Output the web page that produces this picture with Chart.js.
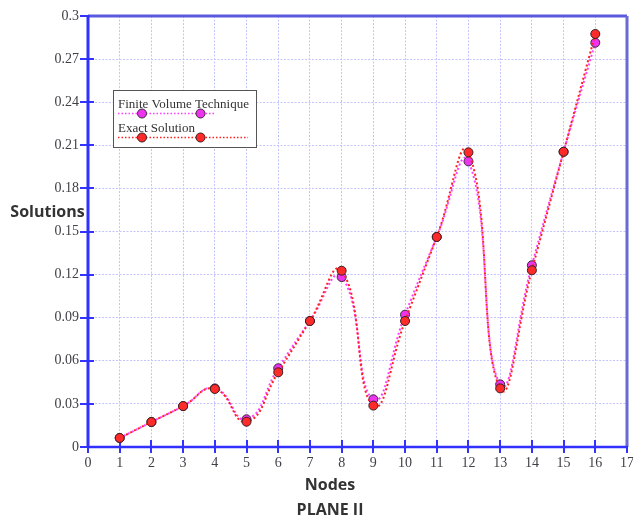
<!DOCTYPE html>
<html><head><meta charset="utf-8">
<script src="https://cdn.jsdelivr.net/npm/chart.js@4"></script>
<style>html,body{margin:0;padding:0;background:#fff}#wrap{width:633px;height:521px}</style>
</head><body><div id="wrap"><canvas id="c" width="633" height="521"></canvas></div>
<script>
const nodes = [1,2,3,4,5,6,7,8,9,10,11,12,13,14,15,16];
const fvtValues   = [0.0063,0.0174,0.0285,0.0408,0.0193,0.0548,0.0877,0.1183,0.0332,0.0921,0.1462,0.1988,0.0436,0.1265,0.2055,0.2814];
const exactValues = [0.0063,0.0174,0.0285,0.0404,0.0176,0.0520,0.0877,0.1227,0.0288,0.0877,0.1462,0.2051,0.0408,0.1230,0.2055,0.2875];
const xTickValues = [0,1,2,3,4,5,6,7,8,9,10,11,12,13,14,15,16,17];
const yTickValues = [0,0.03,0.06,0.09,0.12,0.15,0.18,0.21,0.24,0.27,0.3];
const seriesNames = ['Finite Volume Technique','Exact Solution'];
const yTitle = 'Solutions';
const xTitle = 'Nodes';
const subTitle = 'PLANE II';

const toPts = vals => nodes.map((n,i)=>({x:n,y:vals[i]}));

const framePlugin = {
  id:'frame',
  beforeDatasetsDraw(chart){
    const {ctx, chartArea:a, scales:{x,y}} = chart;
    ctx.save();
    ctx.strokeStyle='#3333ff'; ctx.lineWidth=2;
    yTickValues.forEach(v=>{const py=Math.round(y.getPixelForValue(v));
      ctx.beginPath();ctx.moveTo(a.left-8,py);ctx.lineTo(a.left+6,py);ctx.stroke();});
    xTickValues.forEach(v=>{const px=Math.round(x.getPixelForValue(v));
      ctx.beginPath();ctx.moveTo(px,a.bottom-7);ctx.lineTo(px,a.bottom+6);ctx.stroke();});
    ctx.strokeStyle='#5a5ae0'; ctx.lineWidth=3;
    ctx.beginPath();ctx.moveTo(a.left,a.top);ctx.lineTo(a.right,a.top);ctx.stroke();
    ctx.strokeStyle='#6a6ad6';
    ctx.beginPath();ctx.moveTo(a.right,a.top);ctx.lineTo(a.right,a.bottom);ctx.stroke();
    ctx.strokeStyle='#3030ff'; ctx.lineWidth=3;
    ctx.beginPath();ctx.moveTo(a.left,a.top-1);ctx.lineTo(a.left,a.bottom);ctx.stroke();
    ctx.lineWidth=2.5;
    ctx.beginPath();ctx.moveTo(a.left,a.bottom);ctx.lineTo(a.right+1,a.bottom);ctx.stroke();
    ctx.restore();
  },
  afterDraw(chart){
    const {ctx} = chart;
    ctx.save();
    ctx.fillStyle='#333';
    ctx.font='bold 16px "Open Sans"';
    ctx.textAlign='center'; ctx.textBaseline='middle';
    ctx.fillText(yTitle,47.5,212);
    ctx.fillText(xTitle,330,485);
    ctx.fillText(subTitle,330,510);
    const bx=113.5, by=90.5, bw=143, bh=57;
    ctx.fillStyle='#fff'; ctx.fillRect(bx,by,bw,bh);
    ctx.strokeStyle='#555'; ctx.lineWidth=1; ctx.strokeRect(bx,by,bw,bh);
    const ds = chart.data.datasets;
    const rows=[{ty:108,ly:113.5,lx2:215},{ty:132,ly:137.5,lx2:248}];
    ds.forEach((d,i)=>{
      const r=rows[i];
      ctx.fillStyle='#333'; ctx.font='13px "Liberation Serif"';
      ctx.textAlign='left'; ctx.textBaseline='alphabetic';
      ctx.fillText(d.label,118,r.ty);
      ctx.strokeStyle=d.borderColor; ctx.lineWidth=1.5; ctx.setLineDash([1.5,2]);
      ctx.beginPath();ctx.moveTo(118,r.ly);ctx.lineTo(r.lx2,r.ly);ctx.stroke();
      ctx.setLineDash([]);
      [142,200.5].forEach(mx=>{
        ctx.beginPath();ctx.arc(mx,r.ly,4.5,0,Math.PI*2);
        ctx.fillStyle=d.pointBackgroundColor; ctx.fill();
        ctx.strokeStyle=d.pointBorderColor; ctx.lineWidth=1; ctx.stroke();
      });
    });
    ctx.restore();
  }
};

const zeroPad = s => { s.paddingLeft=0; s.paddingRight=0; s.paddingTop=0; s.paddingBottom=0; };

new Chart(document.getElementById('c'),{
  type:'line',
  data:{datasets:[
    {label:seriesNames[0],data:toPts(fvtValues),borderColor:'#ff3cff',backgroundColor:'#ff3cff',
     pointBackgroundColor:'#ee33ee',pointBorderColor:'#3a2a3a',pointBorderWidth:1,pointRadius:4.5,
     borderWidth:2,borderDash:[2,2.5],tension:0.5,fill:false,order:1},
    {label:seriesNames[1],data:toPts(exactValues),borderColor:'#ff2020',backgroundColor:'#ff2020',
     pointBackgroundColor:'#ff2a2a',pointBorderColor:'#3a2020',pointBorderWidth:1,pointRadius:4.5,
     borderWidth:2,borderDash:[2,2.5],borderDashOffset:2,tension:0.5,fill:false,order:0}
  ]},
  options:{
    responsive:false, animation:false, devicePixelRatio:1,
    layout:{padding:{top:16,right:6,left:0,bottom:0}},
    plugins:{legend:{display:false},tooltip:{enabled:false}},
    scales:{
      x:{type:'linear',min:0,max:17,
        afterBuildTicks:s=>{s.ticks=xTickValues.map(v=>({value:v}));},
        afterFit:s=>{s.height=74; zeroPad(s);},
        grid:{color:'#c4c4ff',lineWidth:1,drawTicks:false},
        border:{display:false,dash:[2,1.5]},
        ticks:{padding:8,color:'#404048',font:{family:'"Liberation Serif"',size:14},maxRotation:0,autoSkip:false,
          callback:v=>String(v)}},
      y:{min:0,max:0.3,
        afterBuildTicks:s=>{s.ticks=yTickValues.map(v=>({value:v}));},
        afterFit:s=>{s.width=88; zeroPad(s);},
        grid:{color:'#c4c4ff',lineWidth:1,drawTicks:false},
        border:{display:false,dash:[2,1.5]},
        ticks:{padding:9,color:'#404048',font:{family:'"Liberation Serif"',size:14},autoSkip:false,
          callback:v=>String(+v.toFixed(2))}}
    }
  },
  plugins:[framePlugin]
});
</script></body></html>
